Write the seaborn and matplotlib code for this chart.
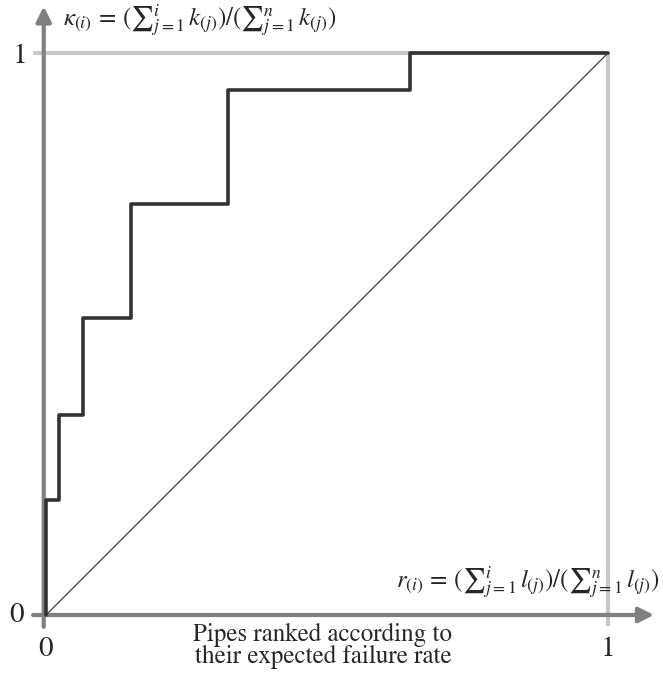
import matplotlib
matplotlib.use("Agg")
import matplotlib.pyplot as plt
import seaborn as sns
import pandas as pd

# Data (cumulative share of pipe length vs cumulative share of failures)
step_x = [0.0, 0.0, 0.0226, 0.065, 0.151, 0.323, 0.648, 1.0]
step_y = [0.0, 0.204, 0.356, 0.528, 0.732, 0.934, 1.0, 1.0]
diag_x = [0.0, 1.0]
diag_y = [0.0, 1.0]
tick_labels = ["0", "1"]
x_label_lines = ["Pipes ranked according to", "their expected failure rate"]
kappa_label = r"$\kappa_{(i)}\,=\,(∑_{j=1}^{i}\,k_{(j)})/(∑_{j=1}^{n}\,k_{(j)})$"
r_label = r"$r_{(i)}\,=\,(∑_{j=1}^{i}\,l_{(j)})/(∑_{j=1}^{n}\,l_{(j)})$"

sns.set_style("white")
plt.rcParams["font.family"] = ["STIXGeneral", "Liberation Serif", "DejaVu Serif"]
plt.rcParams["mathtext.fontset"] = "stix"

W, H = 663, 673
fig = plt.figure(figsize=(W / 100, H / 100), dpi=100)
ax = fig.add_axes([0, 0, 1, 1])
x0px, y0px, unit = 46, 615, 562

gray = "#808080"
light = "#c8c8c8"

# light gray frame lines at x=1, y=1
ax.plot([-0.023, 1.0], [1.0, 1.0], color=light, lw=3, solid_capstyle="butt", zorder=1)
ax.plot([1.0, 1.0], [-0.02, 1.0], color=light, lw=3, solid_capstyle="butt", zorder=1)

# axes arrows
ax.annotate("", xy=(-0.004, 1.083), xytext=(-0.004, -0.021),
            arrowprops=dict(arrowstyle="-|>,head_length=0.9,head_width=0.45",
                            color=gray, lw=3, shrinkA=0, shrinkB=0), zorder=2)
ax.annotate("", xy=(1.082, 0.0), xytext=(-0.023, 0.0),
            arrowprops=dict(arrowstyle="-|>,head_length=0.9,head_width=0.45",
                            color=gray, lw=3, shrinkA=0, shrinkB=0), zorder=2)

# diagonal
sns.lineplot(x=diag_x, y=diag_y, estimator=None, sort=False, color="#444444",
             lw=0.9, ax=ax, zorder=3)

# step curve
df = pd.DataFrame({"x": step_x, "y": step_y})
sns.lineplot(data=df, x="x", y="y", estimator=None, sort=False, drawstyle="steps-post",
             color="#333333", lw=2.6, ax=ax, zorder=4)
ax.set_xlim(-x0px / unit, (W - x0px) / unit)
ax.set_ylim(-(H - y0px) / unit, y0px / unit)
ax.axis("off")

fs = 21
# tick labels
ax.text(-29 / unit, 0.0, tick_labels[0], fontsize=fs, ha="center", va="center")
ax.text(-26 / unit, 1.0 - 3 / unit, tick_labels[1], fontsize=fs, ha="center", va="center")
ax.text(0.0, -34 / unit, tick_labels[0], fontsize=fs, ha="center", va="center")
ax.text(1.0, -34 / unit, tick_labels[1], fontsize=fs, ha="center", va="center")

# axis title lines
ax.text((323 - x0px) / unit, -20 / unit, x_label_lines[0], fontsize=18, ha="center", va="center")
ax.text((323 - x0px) / unit, -42 / unit, x_label_lines[1], fontsize=18, ha="center", va="center")

# formulas
ax.text((63 - x0px) / unit, (y0px - 21) / unit, kappa_label, fontsize=18, ha="left", va="center")
ax.text((660 - x0px) / unit, 32 / unit, r_label, fontsize=18, ha="right", va="center")

fig.savefig("out.png", dpi=100)
